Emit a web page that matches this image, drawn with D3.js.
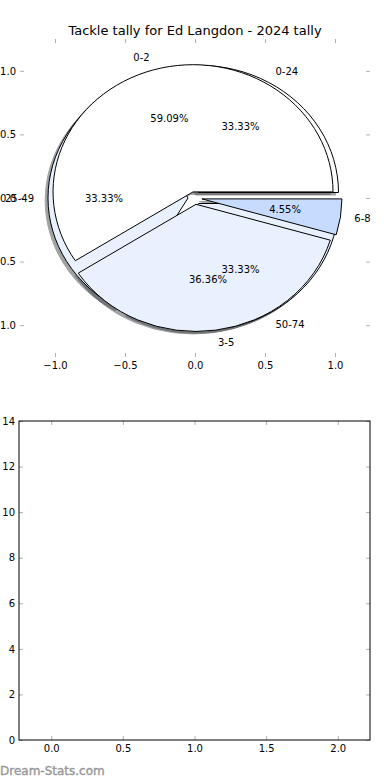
<!DOCTYPE html>
<html>
<head>
<meta charset="utf-8">
<script src="https://cdn.jsdelivr.net/npm/d3@7"></script>
<style>
  body { margin: 0; background: #fff; }
  text { font-family: "DejaVu Sans", sans-serif; }
</style>
</head>
<body>
<div id="display"></div>
<script>
// chart data
const title = "Tackle tally for Ed Langdon - 2024 tally";
const tallyLabels = ["0-2", "3-5", "6-8"];
const tallyCounts = [13, 8, 1];
const tallyColors = ["#ffffff", "#eaf1fe", "#c6dbfe"];
const rangeLabels = ["0-24", "25-49", "50-74"];
const rangeCounts = [1, 1, 1];
const rangeColors = ["#ffffff", "#eaf1fe", "#eaf1fe"];
const pieTicks = [-1, -0.5, 0, 0.5, 1];
const barXTicks = [0, 0.5, 1, 1.5, 2];
const barYTicks = [0, 2, 4, 6, 8, 10, 12, 14];
const explode = 0.05;
const shadowOffset = -0.02;

const svg = d3.select('#display')
    .append('svg')
    .attr('width', 390)
    .attr('height', 780);

const tickColor = "#b0b0b0";

// ---- top axes (pie) ----
const px = d3.scaleLinear().domain([-1.25, 1.25]).range([20, 370]);
const py = d3.scaleLinear().domain([-1.25, 1.25]).range([357, 39]);

function styleAxis(g) {
    g.select(".domain").remove();
    g.selectAll(".tick line").attr("stroke", tickColor);
    g.selectAll(".tick text")
        .attr("fill", "#000")
        .attr("font-size", "10px")
        .attr("font-family", "DejaVu Sans");
}

svg.append("g").attr("transform", `translate(0,${py.range()[0]})`)
    .call(d3.axisBottom(px).tickValues(pieTicks).tickFormat(d3.format(".1f")).tickSizeInner(-4).tickPadding(5))
    .call(styleAxis);
svg.append("g").attr("transform", `translate(0,${py.range()[1]})`)
    .call(d3.axisTop(px).tickValues(pieTicks).tickFormat("").tickSizeInner(-4))
    .call(styleAxis);
svg.append("g").attr("transform", `translate(${px.range()[0]},0)`)
    .call(d3.axisLeft(py).tickValues(pieTicks).tickFormat(d3.format(".1f")).tickSizeInner(-4).tickPadding(4))
    .call(styleAxis);
svg.append("g").attr("transform", `translate(${px.range()[1]},0)`)
    .call(d3.axisRight(py).tickValues(pieTicks).tickFormat("").tickSizeInner(-4))
    .call(styleAxis);

svg.append("text")
    .attr("x", (px.range()[0] + px.range()[1]) / 2)
    .attr("y", 34.5)
    .attr("text-anchor", "middle")
    .attr("font-size", "13px")
    .text(title);

// pies go counterclockwise from 3 o'clock like matplotlib
const pie = d3.pie().sort(null).value(d => d)
    .startAngle(Math.PI / 2).endAngle(Math.PI / 2 - 2 * Math.PI);
const arc = d3.arc().innerRadius(0).outerRadius(1);
const kx = px(1) - px(0);
const ky = py(0) - py(1);

function layout(labels, counts, colors) {
    const total = d3.sum(counts);
    return pie(counts).map((a, i) => {
        const theta = Math.PI / 2 - (a.startAngle + a.endAngle) / 2;
        return {
            arc: a,
            label: labels[i],
            pct: d3.format(".2f")(counts[i] / total * 100) + "%",
            color: colors[i],
            theta: theta,
            cx: explode * Math.cos(theta),
            cy: explode * Math.sin(theta)
        };
    });
}

const tally = layout(tallyLabels, tallyCounts, tallyColors);
const range = layout(rangeLabels, rangeCounts, rangeColors);

const shadows = svg.append("g");
const wedges = svg.append("g");
const labels = svg.append("g");

function drawPie(parts) {
    parts.forEach(p => {
        const c = d3.color(p.color);
        const dark = d3.rgb(c.r * 0.3, c.g * 0.3, c.b * 0.3);
        shadows.append("path")
            .attr("d", arc(p.arc))
            .attr("transform", `translate(${px(p.cx + shadowOffset)},${py(p.cy + shadowOffset)}) scale(${kx},${ky})`)
            .attr("fill", dark)
            .attr("stroke", dark)
            .attr("vector-effect", "non-scaling-stroke")
            .attr("opacity", 0.5);
        wedges.append("path")
            .attr("d", arc(p.arc))
            .attr("transform", `translate(${px(p.cx)},${py(p.cy)}) scale(${kx},${ky})`)
            .attr("fill", p.color)
            .attr("stroke", "#000")
            .attr("stroke-width", 1)
            .attr("vector-effect", "non-scaling-stroke");

        const lx = p.cx + 1.1 * Math.cos(p.theta);
        const ly = p.cy + 1.1 * Math.sin(p.theta);
        labels.append("text")
            .attr("x", px(lx))
            .attr("y", py(ly))
            .attr("dy", "0.35em")
            .attr("text-anchor", lx > 0 ? "start" : "end")
            .attr("font-size", "10px")
            .text(p.label);

        labels.append("text")
            .attr("x", px(p.cx + 0.6 * Math.cos(p.theta)))
            .attr("y", py(p.cy + 0.6 * Math.sin(p.theta)))
            .attr("dy", "0.35em")
            .attr("text-anchor", "middle")
            .attr("font-size", "10px")
            .text(p.pct);
    });
}

drawPie(range);
drawPie(tally);

// ---- bottom axes (empty) ----
const bx = d3.scaleLinear().domain([-0.225, 2.225]).range([19, 370]);
const by = d3.scaleLinear().domain([0, 14]).range([740, 421]);

svg.append("g").attr("transform", `translate(0,${by.range()[0]})`)
    .call(d3.axisBottom(bx).tickValues(barXTicks).tickFormat(d3.format(".1f")).tickSizeInner(-4).tickPadding(5))
    .call(styleAxis);
svg.append("g").attr("transform", `translate(0,${by.range()[1]})`)
    .call(d3.axisTop(bx).tickValues(barXTicks).tickFormat("").tickSizeInner(-4))
    .call(styleAxis);
svg.append("g").attr("transform", `translate(${bx.range()[0]},0)`)
    .call(d3.axisLeft(by).tickValues(barYTicks).tickFormat(d3.format("d")).tickSizeInner(-4).tickPadding(4))
    .call(styleAxis);
svg.append("g").attr("transform", `translate(${bx.range()[1]},0)`)
    .call(d3.axisRight(by).tickValues(barYTicks).tickFormat("").tickSizeInner(-4))
    .call(styleAxis);

svg.append("rect")
    .attr("x", bx.range()[0])
    .attr("y", by.range()[1])
    .attr("width", bx.range()[1] - bx.range()[0])
    .attr("height", by.range()[0] - by.range()[1])
    .attr("fill", "none")
    .attr("stroke", "#000")
    .attr("stroke-width", 1);

svg.append("text")
    .attr("x", 0)
    .attr("y", 775)
    .attr("font-size", "12px")
    .attr("fill", "#999999")
    .attr("stroke", "#999999")
    .attr("stroke-width", 0.4)
    .text("Dream-Stats.com");
</script>
</body>
</html>
